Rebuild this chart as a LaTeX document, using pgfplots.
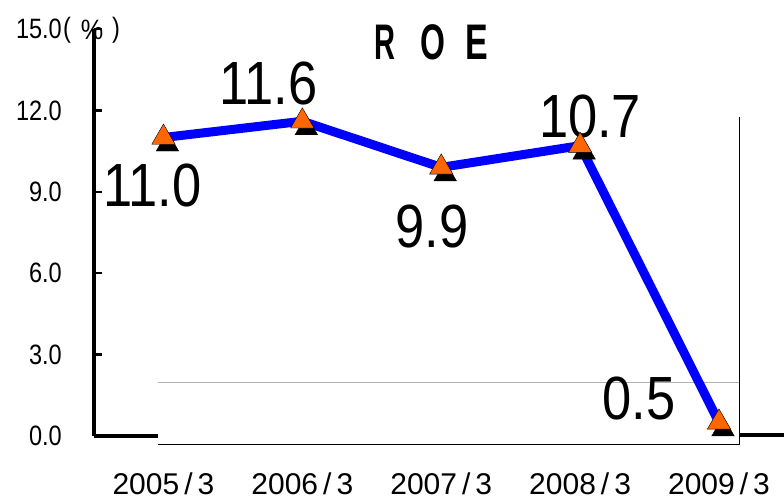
\documentclass[border=0pt]{standalone}
\usepackage{fontspec}
\setmainfont{Liberation Sans}
\usepackage{graphicx}
\usepackage{pgfplots}
\pgfplotsset{compat=1.18}
\newcommand{\sx}[2]{\scalebox{#1}[1]{#2}}
\definecolor{roeblue}{RGB}{0,0,255}
\definecolor{roeorange}{RGB}{255,102,0}
\begin{document}
\begin{tikzpicture}
\useasboundingbox (0pt,0pt) rectangle (784pt,501pt);
% overlaid frame pieces
\draw[black, line width=4pt] (94pt,65pt) -- (158pt,65pt);
\draw[black, line width=4pt] (739pt,66pt) -- (784pt,66pt);
\draw[black, line width=1pt] (158pt,57pt) -- (739.5pt,57pt);
\draw[black, line width=1pt] (739pt,57pt) -- (739pt,384pt);
\draw[black!30, line width=0.8pt] (158pt,119pt) -- (739pt,119pt);
% unit
\node[font=\fontsize{28pt}{28pt}\selectfont, inner sep=0pt] at (67pt,471pt) {\sx{0.84}{(}};
\node[font=\fontsize{28pt}{28pt}\selectfont, inner sep=0pt] at (92pt,471pt) {\sx{0.9}{\%}};
\node[font=\fontsize{28pt}{28pt}\selectfont, inner sep=0pt] at (116pt,471pt) {\sx{0.84}{)}};
% title
\node[font=\fontsize{50pt}{50pt}\selectfont\bfseries, inner sep=0pt] at (385pt,459pt) {\sx{0.58}{R}};
\node[font=\fontsize{50pt}{50pt}\selectfont\bfseries, inner sep=0pt] at (433pt,459pt) {\sx{0.64}{O}};
\node[font=\fontsize{50pt}{50pt}\selectfont\bfseries, inner sep=0pt] at (477pt,459pt) {\sx{0.68}{E}};
\begin{axis}[
  at={(94pt,65pt)}, anchor=south west,
  scale only axis, width=690pt, height=407pt,
  xmin=-0.5, xmax=4.468, ymin=0, ymax=15, clip=false,
  axis x line*=bottom, axis y line*=left,
  x axis line style={draw=none},
  y axis line style={line width=4pt, black, -},
  xtick style={draw=none},
  ytick style={line width=2.5pt, black},
  tick align=inside, major tick length=8pt,
  xtick={0,1,2,3,4},
  xticklabels={2005\,/\,3,2006\,/\,3,2007\,/\,3,2008\,/\,3,2009\,/\,3},
  xticklabel style={font=\fontsize{30pt}{30pt}\selectfont, anchor=north, inner sep=0pt, yshift=-37pt},
  ytick={0,3,6,9,12,15},
  yticklabels={\sx{0.84}{0.0},\sx{0.84}{3.0},\sx{0.84}{6.0},\sx{0.84}{9.0},\sx{0.84}{12.0},\sx{0.84}{15.0}},
  yticklabel style={font=\fontsize{28pt}{28pt}\selectfont, anchor=east, inner sep=0pt, xshift=-32pt},
]
\addplot[only marks, mark=triangle*, mark size=13pt, mark options={fill=black, draw=none, xshift=4pt, yshift=-7pt}]
  coordinates {(0,11.0) (1,11.6) (2,9.9) (3,10.7) (4,0.5)};
\addplot[roeblue, line width=9pt, no marks, line join=round]
  coordinates {(0,11.0) (1,11.6) (2,9.9) (3,10.7) (4,0.5)};
\addplot[only marks, mark=triangle*, mark size=13.5pt, mark options={fill=roeorange, draw=none}]
  coordinates {(0,11.0) (1,11.6) (2,9.9) (3,10.7) (4,0.5)};
\tikzset{lab/.style={font=\fontsize{61pt}{61pt}\selectfont, inner sep=0pt, anchor=center}}
\node[lab, xshift=-11pt, yshift=-47.5pt] at (axis cs:0,11.0) {\sx{0.86}{11.0}};
\node[lab, xshift=-34pt, yshift=38pt] at (axis cs:1,11.6) {\sx{0.86}{11.6}};
\node[lab, xshift=-9pt, yshift=-59.6pt] at (axis cs:2,9.9) {\sx{0.86}{9.9}};
\node[lab, xshift=10pt, yshift=29pt] at (axis cs:3,10.7) {\sx{0.86}{10.7}};
\node[lab, xshift=-80pt, yshift=24pt] at (axis cs:4,0.5) {\sx{0.86}{0.5}};
\end{axis}
\end{tikzpicture}
\end{document}
